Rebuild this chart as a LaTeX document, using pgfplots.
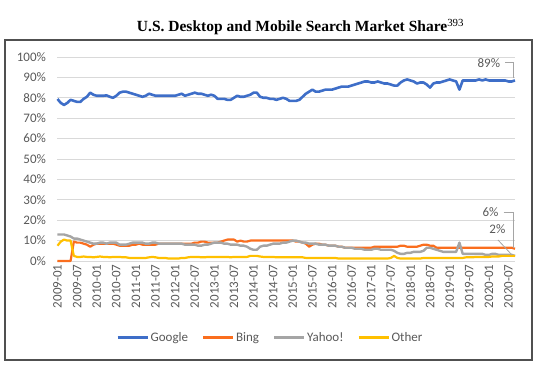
\documentclass[border=0pt]{standalone}
\usepackage{pgfplots}
\pgfplotsset{compat=1.18}
\usepackage{pgfplotstable}
\usepackage{fontspec}
\setmainfont{Carlito}
\newfontfamily\titlefont{Liberation Serif}
\definecolor{cgoogle}{RGB}{62,110,200}
\definecolor{cbing}{RGB}{250,110,30}
\definecolor{cyahoo}{RGB}{165,165,165}
\definecolor{cother}{RGB}{255,192,0}
\definecolor{labc}{RGB}{89,89,89}
\definecolor{gridc}{RGB}{217,217,217}
\definecolor{framec}{RGB}{80,80,80}
\pgfplotstableread{
m G B Y O
0 79.4 0 13 7.5
1 77.5 0 13 9.5
2 76.5 0 13 10.5
3 77.5 0 12.5 10
4 79 0 12 10
5 78.5 9.5 11 2.5
6 78 9 11 2
7 78 9 10.5 2
8 79.5 8.5 10 2.2
9 80.5 8 9.5 2
10 82.5 7 9 2
11 81.5 8 8.5 1.8
12 81 8.5 8.5 2
13 81 8.5 9 2.2
14 81 8.5 9 2
15 81.2 8.5 8.5 2
16 80.5 8.5 9 1.8
17 80 8.5 9 2
18 81 8 9 2
19 82.5 7.5 8 2
20 83 7.5 8 1.8
21 83 7.5 8 1.8
22 82.5 7.5 8.5 1.5
23 82 8 9 1.5
24 81.5 8 9 1.5
25 81 8.5 9 1.5
26 80.5 8 9 1.5
27 81 8 8.5 1.5
28 82 8 8.5 1.8
29 81.5 8 9 2
30 81 8 9 1.8
31 81 8.5 8.5 1.5
32 81 8.5 8.5 1.5
33 81 8.5 8.5 1.5
34 81 8.5 8.5 1.2
35 81 8.5 8.5 1.2
36 81 8.5 8.5 1.2
37 81.5 8.5 8.5 1.2
38 82 8.5 8.5 1.5
39 81 8.5 8 1.5
40 81.5 8.5 8 1.8
41 82 8.5 8 2
42 82.5 9 8 2
43 82 9 7.5 2
44 82 9.5 7.5 1.8
45 81.5 9.5 8 1.8
46 81 9 8 2
47 81.5 9 8.5 2
48 81 9 9 2
49 79.5 9 9 2
50 79.5 9.5 9 2
51 79.5 10 8.5 2
52 79 10.5 8.5 2
53 79 10.5 8 1.8
54 80 10.5 8 2
55 81 9.5 8 2
56 80.5 10 7.5 2
57 80.5 9.5 7.5 2
58 81 9.5 7 2
59 81.5 10 6 2.5
60 82.5 10 5.5 2.5
61 82.5 10 5.5 2.5
62 80.5 10 7 2.2
63 80 10 7.5 2
64 80 10 7.5 2
65 79.5 10 8 2
66 79.5 10 8.5 2
67 79 10 8.5 1.8
68 79.5 10 8.5 1.8
69 80 10 9 1.8
70 79.5 10 9 1.8
71 78.5 10 9.5 1.8
72 78.5 10 10 1.8
73 78.5 9.5 10 1.8
74 79 9.5 9.5 1.8
75 80.5 9 9 1.8
76 82 8.5 9 1.5
77 83 7 8.5 1.5
78 84 8 8.5 1.5
79 83 8.5 8.5 1.5
80 83 8.5 8 1.5
81 83.5 8 8 1.5
82 84 8 8 1.5
83 84 7.5 7.5 1.5
84 84 7.5 7.5 1.5
85 84.5 7.5 7.5 1.5
86 85 7 7 1.2
87 85.5 7 7 1.2
88 85.5 6.5 6.5 1.2
89 85.5 6.5 6.5 1.2
90 86 6.5 6.5 1.2
91 86.5 6.5 6 1.2
92 87 6.5 6 1.2
93 87.5 6.5 6 1.2
94 88 6.5 5.5 1.2
95 88 6.5 5.5 1.2
96 87.5 6.5 5.5 1.2
97 87.5 7 6 1.2
98 88 7 6 1.2
99 87.5 7 5.5 1.2
100 87 7 5.5 1.2
101 87 7 5.5 1.2
102 86.5 7 5.5 1.5
103 86 7 5 2.5
104 86 7 4 1.5
105 87.5 7.5 3.5 1.2
106 88.5 7.5 3.5 1.2
107 89 7 4 1.2
108 88.5 7 4 1.2
109 88 7 4.5 1.2
110 87 7 4.5 1.2
111 87.5 7.5 4.5 1.2
112 87.5 8 5 1.5
113 86.5 8 6.5 1.5
114 85 7.5 6.5 1.5
115 87 7.5 6 1.5
116 87.5 6.5 5.5 1.5
117 87.5 6.5 5 1.5
118 88 6.5 4.5 1.5
119 88.5 6.5 4.5 1.5
120 89 6.5 4.5 1.5
121 88.5 6.5 4.5 1.5
122 88 6.5 4.5 1.5
123 84 6.5 9 1.5
124 88.5 6.5 3.5 1.5
125 88.5 6.5 3.5 1.8
126 88.5 6.5 3.5 1.8
127 88.5 6.5 3.5 1.8
128 88.5 6.5 3.5 2
129 89 6.5 3.5 2
130 88.5 6.5 3.5 2
131 89 6.5 3 2
132 88.5 6.5 3 2
133 88.5 6.5 3.5 2.2
134 88.5 6.5 3.5 2.2
135 88.5 6.5 3 2.2
136 88.5 6.5 3 2.5
137 88.5 6.5 3 2.5
138 88 6.5 3 2.5
139 88 6.5 3 2.5
140 88.5 6 2.5 2.5
}\datatable

\begin{document}
\begin{tikzpicture}
\path[use as bounding box] (-57.5pt,261pt) rectangle (492.5pt,-114pt);
\draw[line width=1.5pt, color=framec] (-52.5pt,221pt) rectangle (474.5pt,-99pt);
\node[font=\titlefont\bfseries\fontsize{15.5}{18}\selectfont] at (243pt,234pt) {U.S. Desktop and Mobile Search Market Share\textsuperscript{\mdseries 393}};
\begin{axis}[
  at={(0pt,0pt)}, anchor=south west,
  scale only axis, width=457.5pt, height=204pt,
  xmin=0, xmax=140, ymin=0, ymax=100,
  clip=false,
  axis line style={draw=none},
  major tick length=0pt,
  ymajorgrids, grid style={color=gridc, line width=0.8pt},
  ytick={0,10,...,100},
  yticklabels={0\%,10\%,20\%,30\%,40\%,50\%,60\%,70\%,80\%,90\%,100\%},
  xtick={0,6,...,138},
  xticklabels={2009-01,2009-07,2010-01,2010-07,2011-01,2011-07,2012-01,2012-07,2013-01,2013-07,2014-01,2014-07,2015-01,2015-07,2016-01,2016-07,2017-01,2017-07,2018-01,2018-07,2019-01,2019-07,2020-01,2020-07},
  tick label style={font=\fontsize{13}{14}\selectfont, color=labc},
  yticklabel style={xshift=-8pt},
  xticklabel style={rotate=90, anchor=east},
  legend columns=4,
  legend style={at={(rel axis cs:0.4645,-0.375)}, anchor=center, draw=none, fill=none,
    font=\fontsize{13}{14}\selectfont, text=labc,
    /tikz/every even column/.append style={column sep=12pt},
    nodes={inner sep=1.5pt}},
  legend image code/.code={\draw[#1,line width=3pt] (0pt,0pt) -- (30pt,0pt);},
]
\addplot[color=cgoogle, line width=2.6pt, line join=round] table[x=m,y=G] {\datatable};
\addlegendentry{Google}
\addplot[color=cbing, line width=2.2pt, line join=round] table[x=m,y=B] {\datatable};
\addlegendentry{Bing}
\addplot[color=cyahoo, line width=2.4pt, line join=round] table[x=m,y=Y] {\datatable};
\addlegendentry{Yahoo!}
\addplot[color=cother, line width=2.2pt, line join=round] table[x=m,y=O] {\datatable};
\addlegendentry{Other}
\node[font=\fontsize{13}{14}\selectfont, text=labc] at (axis cs:132,97.2) {89\%};
\draw[color=cyahoo, line width=0.8pt] (axis cs:137,97.2) -- (axis cs:139.5,97.2) -- (axis cs:139.5,89.5);
\node[font=\fontsize{13}{14}\selectfont, text=labc] at (axis cs:132.5,24) {6\%};
\draw[color=cyahoo, line width=0.8pt] (axis cs:136.5,24) -- (axis cs:139.5,24) -- (axis cs:139.5,6.5);
\node[font=\fontsize{13}{14}\selectfont, text=labc] at (axis cs:134.6,15.7) {2\%};
\draw[color=cyahoo, line width=0.8pt] (axis cs:134.8,10.3) -- (axis cs:139.1,2.9);
\end{axis}
\end{tikzpicture}
\end{document}
